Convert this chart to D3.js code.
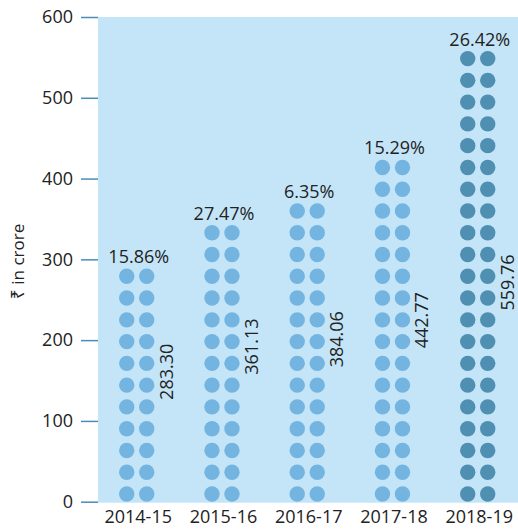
<!DOCTYPE html>
<html>
<head>
<meta charset="utf-8">
<script src="https://cdn.jsdelivr.net/npm/d3@7"></script>
<style>
  html, body { margin: 0; padding: 0; background: #ffffff; }
  svg { display: block; font-family: "Open Sans", "Noto Sans", sans-serif; }
</style>
</head>
<body>
<svg id="chart" width="518" height="530"></svg>
<script>
// Receipts per year, ₹ in crore, with year-on-year growth
const years = ["2014-15", "2015-16", "2016-17", "2017-18", "2018-19"];
const amounts = [283.30, 361.13, 384.06, 442.77, 559.76];
const growth = ["15.86%", "27.47%", "6.35%", "15.29%", "26.42%"];
const yTicks = [0, 100, 200, 300, 400, 500, 600];

// each dot row stands for this many crore
const perDot = 26.95;

const svg = d3.select("#chart");
const plot = { left: 98, right: 518, top: 17, bottom: 501.7 };

const y = d3.scaleLinear().domain([0, 600]).range([plot.bottom, plot.top]);
const x = d3.scaleBand().domain(years).range([94.1, 520.35]);

// panel background
svg.append("rect")
  .attr("x", plot.left).attr("y", y(600))
  .attr("width", plot.right - plot.left)
  .attr("height", y(0) - y(600) + 1)
  .attr("fill", "#c4e5f8");

// y axis
const yAxis = svg.append("g")
  .attr("transform", `translate(${plot.left},0)`)
  .call(d3.axisLeft(y).tickValues(yTicks).tickSize(17).tickPadding(8));
yAxis.select(".domain").remove();
yAxis.selectAll(".tick line").attr("stroke", "#4a8db5").attr("stroke-width", 1.5);
yAxis.selectAll(".tick text")
  .attr("fill", "#222").attr("font-size", 18)
  .attr("font-family", "'Open Sans', sans-serif");

// y axis title
svg.append("text")
  .attr("transform", `translate(18,${(y(0) + y(600)) / 2 + 2}) rotate(-90)`)
  .attr("text-anchor", "middle")
  .attr("dy", "0.35em")
  .attr("font-size", 17)
  .attr("fill", "#222")
  .text("₹ in crore");

// x axis labels
svg.append("g").selectAll("text")
  .data(years)
  .join("text")
  .attr("x", d => x(d) + x.bandwidth() / 2 + 1.5)
  .attr("y", 522.5)
  .attr("text-anchor", "middle")
  .attr("font-size", 18)
  .attr("fill", "#222")
  .text(d => d);

const r = 7.7;
const gap = 10;
const step = y(0) - y(perDot);

const cols = years.map((yr, i) => ({
  year: yr,
  value: amounts[i],
  pct: growth[i],
  rows: Math.round(amounts[i] / perDot),
  latest: i === years.length - 1
}));

const colG = svg.append("g").selectAll("g")
  .data(cols)
  .join("g")
  .attr("transform", d => `translate(${x(d.year) + x.bandwidth() / 2},0)`);

// dot stacks: two dots per row, rising from zero
colG.each(function (d) {
  const cells = [];
  for (let rI = 0; rI < d.rows; rI++) {
    for (const side of [-1, 1]) cells.push({ row: rI, side });
  }
  d3.select(this).selectAll("circle")
    .data(cells)
    .join("circle")
    .attr("cx", c => c.side * gap)
    .attr("cy", c => y(0) - r - c.row * step)
    .attr("r", r)
    .attr("fill", d.latest ? "#4f8fb1" : "#74b4e0");
});

// growth labels above each stack
colG.append("text")
  .attr("x", 2)
  .attr("y", d => y(0) - r - (d.rows - 1) * step - 13)
  .attr("text-anchor", "middle")
  .attr("font-size", 18)
  .attr("fill", "#222")
  .text(d => d.pct);

// amount labels, rotated beside each stack
colG.append("text")
  .attr("transform", d => `translate(29.5,${y(47.5 + 0.4 * d.value)}) rotate(-90)`)
  .attr("text-anchor", "middle")
  .attr("dy", "0.35em")
  .attr("font-size", 18)
  .attr("fill", "#222")
  .text(d => d.value.toFixed(2));
</script>
</body>
</html>
